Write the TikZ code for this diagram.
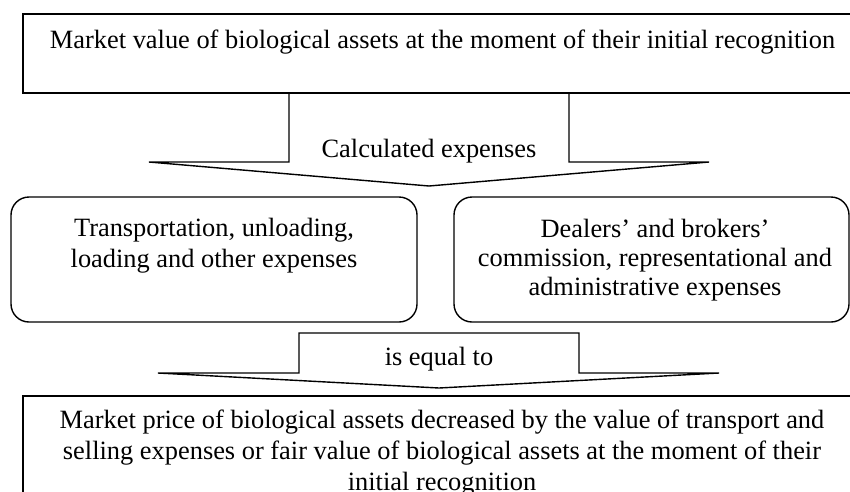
\documentclass[tikz,border=0pt]{standalone}
\usepackage{fontspec}
\setmainfont{Liberation Serif}
\begin{document}
\begin{tikzpicture}[x=1pt,y=-1pt,
  frame/.style={draw=black, line width=1.8pt},
  rbox/.style={draw=black, line width=1.4pt, rounded corners=18pt},
  bigarrow/.style={draw=black, line width=1.4pt, line join=miter},
  txt/.style={font=\fontsize{26.4}{31}\selectfont, align=center, inner sep=0pt},
  txtr/.style={font=\fontsize{26.4}{29}\selectfont, align=center, inner sep=0pt}]
\useasboundingbox (0,0) rectangle (850,491);
\clip (0,0) rectangle (850,491);
% top box
\draw[frame] (23,14) rectangle (862,93);
\node[txt, anchor=base] (top) at (442.5,48) {Market value of biological assets at the moment of their initial recognition};
% arrow 1
\draw[bigarrow] (289,93) -- (289,162) -- (149,162) -- (429,186) -- (709,162) -- (569,162) -- (569,93);
\node[txt, anchor=base] (calc) at (429,157) {Calculated expenses};
% rounded boxes
\draw[rbox] (11,197) rectangle (417,322);
\draw[rbox] (454,197) rectangle (849,322);
\node[txt, anchor=base] (left) at (214,267) {Transportation, unloading,\\loading and other expenses};
\node[txtr, anchor=base] (right) at (655,295) {Dealers’ and brokers’\\commission, representational and\\administrative expenses};
% arrow 2
\draw[bigarrow] (299,333) -- (579,333) -- (579,373) -- (719,373) -- (439,388) -- (158,373) -- (299,373) -- cycle;
\node[txt, anchor=base] (eq) at (439,365) {is equal to};
% bottom box
\draw[frame] (23,396) rectangle (862,520);
\node[txt, anchor=base] (bottom) at (442,490) {Market price of biological assets decreased by the value of transport and\\selling expenses or fair value of biological assets at the moment of their\\initial recognition};
\end{tikzpicture}
\end{document}
